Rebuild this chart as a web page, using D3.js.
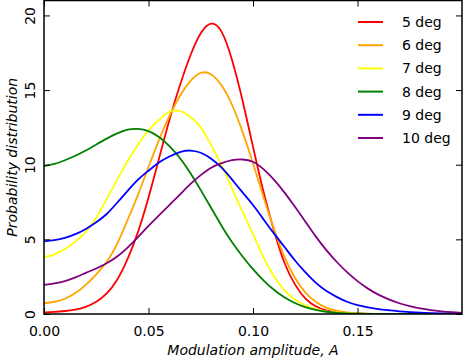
<!DOCTYPE html>
<html>
<head>
<meta charset="utf-8">
<script src="https://cdn.jsdelivr.net/npm/d3@7"></script>
<style>
  body { margin: 0; background: #fff; }
  text { font-family: "DejaVu Sans", sans-serif; }
</style>
</head>
<body>
<div id="chart"></div>
<script>
// Modulation amplitude grid (x values)
const amp = [0.000, 0.005, 0.010, 0.015, 0.020, 0.025, 0.030, 0.035, 0.040, 0.045,
             0.050, 0.055, 0.060, 0.065, 0.070, 0.075, 0.080, 0.085, 0.090, 0.095,
             0.100, 0.105, 0.110, 0.115, 0.120, 0.125, 0.130, 0.135, 0.140, 0.145,
             0.150, 0.155, 0.160, 0.165, 0.170, 0.175, 0.180, 0.185, 0.190, 0.195, 0.200];

const labels = ["5 deg", "6 deg", "7 deg", "8 deg", "9 deg", "10 deg"];
const colors = ["#ff0000", "#ffa500", "#ffff00", "#008000", "#0000ff", "#800080"];

// probability density
const deg5 = [0.11, 0.14, 0.2, 0.3, 0.48, 0.82, 1.38, 2.3, 3.7, 5.5,
              7.8, 10.4, 13.0, 15.3, 17.3, 18.8, 19.45, 18.9, 17.0, 14.3,
              11.2, 8.2, 5.6, 3.45, 2.0, 1.05, 0.52, 0.25, 0.11, 0.05,
              0.02, 0.01, 0, 0, 0, 0, 0, 0, 0, 0, 0];
const deg6 = [0.72, 0.82, 1.02, 1.4, 1.95, 2.65, 3.5, 4.7, 6.3, 8.0,
              9.85, 11.65, 13.25, 14.6, 15.6, 16.15, 16.05, 15.3, 14.0, 12.2,
              10.1, 7.85, 5.7, 3.85, 2.45, 1.45, 0.82, 0.43, 0.22, 0.11,
              0.05, 0.02, 0.01, 0, 0, 0, 0, 0, 0, 0, 0];
const deg7 = [3.8, 4.0, 4.35, 4.85, 5.5, 6.45, 7.7, 9.0, 10.25, 11.35,
              12.3, 13.0, 13.55, 13.6, 13.2, 12.5, 11.3, 9.95, 8.4, 6.85,
              5.35, 3.8, 2.55, 1.6, 0.98, 0.58, 0.33, 0.18, 0.1, 0.05,
              0.02, 0.01, 0, 0, 0, 0, 0, 0, 0, 0, 0];
const deg8 = [9.9, 10.05, 10.3, 10.6, 10.95, 11.35, 11.75, 12.1, 12.35, 12.4,
              12.25, 11.85, 11.25, 10.45, 9.45, 8.3, 7.1, 5.9, 4.8, 3.85,
              3.0, 2.25, 1.62, 1.12, 0.74, 0.46, 0.27, 0.15, 0.08, 0.04,
              0.02, 0.01, 0, 0, 0, 0, 0, 0, 0, 0, 0];
const deg9 = [4.87, 4.95, 5.1, 5.35, 5.7, 6.15, 6.7, 7.45, 8.25, 9.0,
              9.6, 10.15, 10.55, 10.85, 10.95, 10.8, 10.4, 9.8, 9.0, 8.15,
              7.3, 6.35, 5.4, 4.5, 3.6, 2.8, 2.1, 1.55, 1.15, 0.82,
              0.6, 0.45, 0.33, 0.25, 0.18, 0.13, 0.09, 0.06, 0.04, 0.03, 0.02];
const deg10 = [1.95, 2.05, 2.2, 2.45, 2.75, 3.05, 3.4, 3.85, 4.45, 5.15,
               5.9, 6.6, 7.3, 8.0, 8.7, 9.3, 9.8, 10.1, 10.3, 10.35,
               10.2, 9.7, 9.0, 8.15, 7.2, 6.2, 5.2, 4.3, 3.5, 2.8,
               2.2, 1.7, 1.3, 0.98, 0.72, 0.52, 0.37, 0.26, 0.18, 0.12, 0.08];

const xTicks = [0, 0.05, 0.10, 0.15];
const yTicks = [0, 5, 10, 15, 20];

const series = [deg5, deg6, deg7, deg8, deg9, deg10].map((vals, i) => ({
  label: labels[i],
  color: colors[i],
  points: vals.map((v, j) => ({ a: amp[j], p: v }))
}));

const width = 463, height = 359;
const plotLeft = 44, plotRight = 462, plotTop = 0.5, plotBottom = 314;

const svg = d3.select("#chart")
  .append("svg")
  .attr("width", width)
  .attr("height", height);

const x = d3.scaleLinear().domain([0, 0.2]).range([plotLeft, plotRight]);
const y = d3.scaleLinear().domain([0, 21]).range([plotBottom, plotTop]);

svg.append("clipPath").attr("id", "clip")
  .append("rect")
  .attr("x", plotLeft).attr("y", plotTop)
  .attr("width", plotRight - plotLeft).attr("height", plotBottom - plotTop);

const line = d3.line()
  .x(d => x(d.a))
  .y(d => y(d.p))
  .curve(d3.curveNatural);

svg.append("g").attr("clip-path", "url(#clip)")
  .selectAll("path")
  .data(series)
  .enter()
  .append("path")
  .attr("d", d => line(d.points))
  .attr("fill", "none")
  .attr("stroke", d => d.color)
  .attr("stroke-width", 1.8);

// Axes, ticks pointing inward on all four sides
const tickLen = 6;
const fmt = d3.format(".2f");

const gx = svg.append("g")
  .attr("transform", `translate(0,${plotBottom})`)
  .call(d3.axisBottom(x).tickValues(xTicks).tickFormat(fmt).tickSize(-tickLen).tickPadding(12));
const gy = svg.append("g")
  .attr("transform", `translate(${plotLeft},0)`)
  .call(d3.axisLeft(y).tickValues(yTicks).tickSize(-tickLen));
const gt = svg.append("g")
  .attr("transform", `translate(0,${plotTop})`)
  .call(d3.axisTop(x).tickValues(xTicks).tickFormat("").tickSize(-tickLen));
const gr = svg.append("g")
  .attr("transform", `translate(${plotRight},0)`)
  .call(d3.axisRight(y).tickValues(yTicks).tickFormat("").tickSize(-tickLen));

[gx, gy, gt, gr].forEach(g => {
  g.select(".domain").remove();
  g.selectAll(".tick line").attr("stroke", "#000").attr("stroke-width", 1);
});

gx.selectAll("text")
  .attr("font-size", 14)
  .attr("fill", "#000")
  .attr("font-family", "DejaVu Sans");

gy.selectAll("text")
  .attr("x", 0)
  .attr("dy", 0)
  .attr("text-anchor", "middle")
  .attr("transform", "translate(-9,0) rotate(-90)")
  .attr("font-size", 14)
  .attr("fill", "#000")
  .attr("font-family", "DejaVu Sans");

// frame
svg.append("rect")
  .attr("x", plotLeft).attr("y", plotTop)
  .attr("width", plotRight - plotLeft).attr("height", plotBottom - plotTop)
  .attr("fill", "none")
  .attr("stroke", "#000")
  .attr("stroke-width", 1.5);

// axis titles
svg.append("text")
  .attr("x", (plotLeft + plotRight) / 2)
  .attr("y", 355)
  .attr("text-anchor", "middle")
  .attr("font-size", 14)
  .attr("font-style", "italic")
  .text("Modulation amplitude, A");

svg.append("text")
  .attr("transform", `translate(17,${(plotTop + plotBottom) / 2}) rotate(-90)`)
  .attr("text-anchor", "middle")
  .attr("font-size", 14)
  .attr("font-style", "italic")
  .text("Probability distribution");

// legend
const legend = svg.append("g");
const rows = legend.selectAll("g")
  .data(series)
  .enter()
  .append("g")
  .attr("transform", (d, i) => `translate(0,${22 + i * 23.2})`);
rows.append("line")
  .attr("x1", 358).attr("x2", 383)
  .attr("y1", 0).attr("y2", 0)
  .attr("stroke", d => d.color)
  .attr("stroke-width", 2);
rows.append("text")
  .attr("x", 402)
  .attr("dy", "0.35em")
  .attr("font-size", 14)
  .text(d => d.label);
</script>
</body>
</html>
